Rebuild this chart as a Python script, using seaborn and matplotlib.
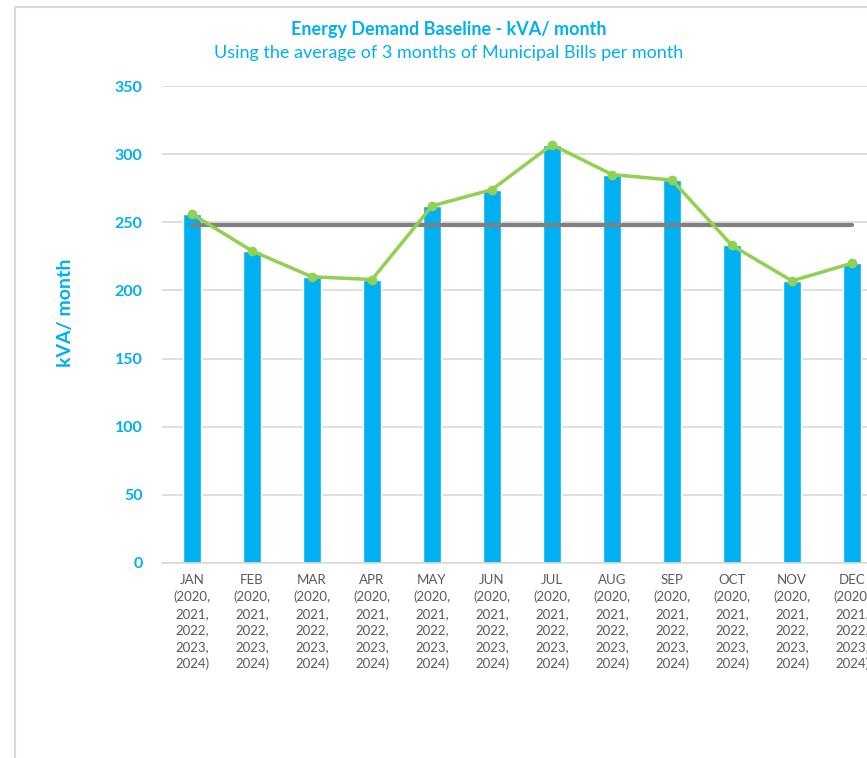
import matplotlib
matplotlib.use('agg')
import matplotlib.pyplot as plt
import seaborn as sns
import pandas as pd
import numpy as np
from matplotlib.patches import Rectangle

# Chart data
months = ['JAN', 'FEB', 'MAR', 'APR', 'MAY', 'JUN',
          'JUL', 'AUG', 'SEP', 'OCT', 'NOV', 'DEC']
years_note = '(2020,\n2021,\n2022,\n2023,\n2024)'
demand_kva = [256, 229, 210, 208, 262, 274, 307, 285, 281, 233, 207, 220]
baseline_kva = 248
yticks = [0, 50, 100, 150, 200, 250, 300, 350]

blue = '#00B0F0'
green = '#92D050'
grey = '#808080'
label_grey = '#595959'

sns.set_style('white')
plt.rcParams['font.family'] = ['Lato', 'DejaVu Sans']

df = pd.DataFrame({'Month': months, 'kVA': demand_kva})
df['Label'] = [m + '\n' + years_note for m in months]

fig = plt.figure(figsize=(8.67, 7.58), dpi=100)
# plot area runs past the right edge like the cropped original
ax = fig.add_axes([162 / 867, (758 - 563) / 758, 720 / 867, (563 - 86) / 758])

sns.barplot(data=df, x='Label', y='kVA', color=blue, width=0.3,
            saturation=1, ax=ax, zorder=2)
x = np.arange(len(months))
ax.plot(x, df['kVA'], color=green, lw=2.5, marker='o', ms=6, zorder=4)
ax.plot([x[0], x[-1]], [baseline_kva, baseline_kva], color=grey, lw=3, zorder=3)

ax.set_xlim(-0.5, len(months) - 0.5)
ax.set_ylim(0, 350)
ax.set_yticks(yticks)
ax.yaxis.grid(True, color='#D9D9D9', lw=1.2, zorder=0)
ax.set_axisbelow(True)
for s in ['top', 'right', 'left']:
    ax.spines[s].set_visible(False)
ax.spines['bottom'].set_color('#D9D9D9')
ax.spines['bottom'].set_linewidth(1.2)

ax.tick_params(axis='y', length=0, pad=14, labelcolor=blue, labelsize=11.5)
for t in ax.get_yticklabels():
    t.set_fontweight('bold')
ax.tick_params(axis='x', which='major', length=0, pad=8,
               labelcolor=label_grey, labelsize=9.5)
ax.set_xticks(np.arange(-0.5, len(months), 1), minor=True)
ax.tick_params(axis='x', which='minor', length=5, color='#D9D9D9', width=1.2)
for t in ax.get_xticklabels():
    t.set_linespacing(1.45)

ax.set_xlabel('')
ax.set_ylabel('')
fig.text(65 / 867, 1 - 313 / 758, 'kVA/ month', rotation=90, color=blue,
         fontsize=14, fontweight='bold', ha='center', va='center')

fig.text(449 / 867, 1 - 30 / 758, 'Energy Demand Baseline - kVA/ month',
         color=blue, fontsize=13, fontweight='bold', ha='center', va='center')
fig.text(449 / 867, 1 - 53 / 758,
         'Using the average of 3 months of Municipal Bills per month',
         color=blue, fontsize=13, ha='center', va='center')

# light chart frame
fig.patches.append(Rectangle((15 / 867, -0.1), 1.2, 1 - 7 / 758 + 0.1,
                             transform=fig.transFigure, fill=False,
                             edgecolor='#D9D9D9', lw=1.5))

fig.savefig('out.png', dpi=100)
